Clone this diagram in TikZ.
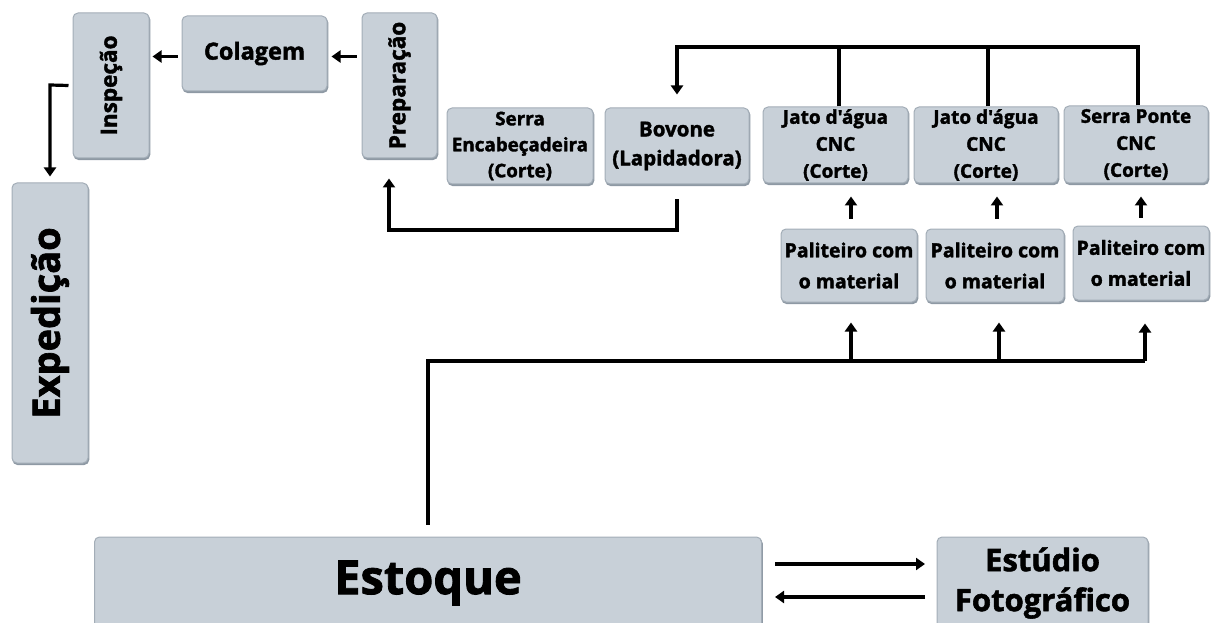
\documentclass[tikz,border=0pt]{standalone}
\usepackage{fontspec}
\setmainfont{Open Sans}[Ligatures=TeXOff, BoldFeatures={FakeBold=1.8}]
\usetikzlibrary{arrows.meta,calc}
\definecolor{boxfill}{HTML}{C8D0D8}
\definecolor{boxedge}{HTML}{A3ADB7}
\definecolor{boxshadow}{HTML}{8E99A4}
\tikzset{
  pbox/.style={draw=boxedge, line width=1pt, fill=boxfill, rounded corners=5pt,
    align=center, font=\bfseries, inner sep=0pt,
    preaction={fill=boxshadow, draw=boxshadow, transform canvas={shift={(0.8pt,-1.6pt)}}}},
  conn/.style={line width=3.2pt, line cap=butt, line join=miter},
  arr/.style={conn, -{Triangle[length=9pt,width=12pt]}},
}
\begin{document}
\begin{tikzpicture}[x=1pt,y=-1pt]
\useasboundingbox (0,0) rectangle (1211,623);
% top left chain
\node[pbox, minimum width=76pt, minimum height=145pt] (insp) at (111,85.5) {};
\node[rotate=90, font=\bfseries\fontsize{22.5}{26}\selectfont] at (insp.center) {Inspeção};
\node[pbox, minimum width=145pt, minimum height=75pt, font=\bfseries\fontsize{23.5}{28}\selectfont] (col) at (254.5,53.5) {Colagem};
\node[pbox, minimum width=75pt, minimum height=145pt] (prep) at (399.5,85.5) {};
\node[rotate=90, font=\bfseries\fontsize{22.5}{26}\selectfont] at (prep.center) {Preparação};
\node[pbox, minimum width=76pt, minimum height=280pt] (exp) at (50,323) {};
\node[rotate=90, font=\bfseries\fontsize{38}{44}\selectfont] at (exp.center) {Expedição};
% machines
\node[pbox, minimum width=146pt, minimum height=76pt, font=\bfseries\fontsize{18.8}{26}\selectfont] (serra) at (520,146) {Serra\\Encabeçadeira\\(Corte)};
\node[pbox, minimum width=144pt, minimum height=76pt, font=\bfseries\fontsize{20.5}{29}\selectfont] (bov) at (677,146) {Bovone\\(Lapidadora)};
\node[pbox, minimum width=145pt, minimum height=76pt, font=\bfseries\fontsize{19}{27}\selectfont] (j1) at (835.5,145) {Jato d'água\\CNC\\(Corte)};
\node[pbox, minimum width=144pt, minimum height=76pt, font=\bfseries\fontsize{19}{27}\selectfont] (j2) at (986,145) {Jato d'água\\CNC\\(Corte)};
\node[pbox, minimum width=144pt, minimum height=77pt, font=\bfseries\fontsize{19}{27}\selectfont] (sp) at (1136,144.5) {Serra Ponte\\CNC\\(Corte)};
% paliteiros
\node[pbox, minimum width=136pt, minimum height=73pt, font=\bfseries\fontsize{19.5}{31}\selectfont] (p1) at (849,265.5) {Paliteiro com\\o material};
\node[pbox, minimum width=138pt, minimum height=73pt, font=\bfseries\fontsize{19.5}{31}\selectfont] (p2) at (995,265.5) {Paliteiro com\\o material};
\node[pbox, minimum width=136pt, minimum height=74pt, font=\bfseries\fontsize{19.5}{31}\selectfont] (p3) at (1141,263) {Paliteiro com\\o material};
% bottom
\node[pbox, minimum width=667pt, minimum height=92pt, font=\bfseries\fontsize{47}{50}\selectfont] (est) at (428,583) {Estoque};
\node[pbox, minimum width=211pt, minimum height=92pt, font=\bfseries\fontsize{31}{40}\selectfont] (stu) at (1042.5,583) {Estúdio\\Fotográfico};
% coordinates
\coordinate (tl) at (677,47);
\coordinate (t1) at (839,47);
\coordinate (t2) at (988,47);
\coordinate (tr) at (1138,47);
\coordinate (bl) at (389,230);
\coordinate (br) at (677,230);
\coordinate (sl) at (428,361);
\coordinate (s1) at (851,361);
\coordinate (s2) at (999,361);
\coordinate (sr) at (1145,361);
\coordinate (il) at (50,85);
\coordinate (r1) at (775,564);
\coordinate (r2) at (925,564);
\coordinate (l1) at (925,597);
\coordinate (l2) at (775,597);
% connectors
\draw[arr] ($(col.west)+(-4,3)$) -- ($(insp.east |- col.west)+(3,3)$);
\draw[arr] ($(prep.west |- col.east)+(-5,3)$) -- ($(col.east)+(4,3)$);
\draw[arr] ($(insp.west)+(-4,0)$) -- (il) -- ($(exp.north)+(0,-6)$);
\draw[arr] (tr |- sp.north) -- (tr) -- (tl) -- ($(bov.north)+(0,-13)$);
\draw[conn] (t1 |- j1.north) -- (t1);
\draw[conn] (t2 |- j2.north) -- (t2);
\draw[arr] ($(bov.south)+(0,15)$) -- (br) -- (bl) -- ($(prep.south)+(-10.5,20)$);
\draw[arr] ($(p1.north)+(2,-10)$) -- ($(j1.south)+(15.5,13)$);
\draw[arr] ($(p2.north)+(2,-10)$) -- ($(j2.south)+(11,13)$);
\draw[arr] ($(p3.north)+(0,-8)$) -- ($(sp.south)+(5,13)$);
\draw[conn] ($(est.north)+(0,-12)$) -- (sl) -- (sr);
\draw[arr] (s1) -- ($(p1.south)+(2,20)$);
\draw[arr] (s2) -- ($(p2.south)+(4,20)$);
\draw[arr] (sr) -- ($(p3.south)+(4,23)$);
\draw[arr] (r1) -- (r2);
\draw[arr] (l1) -- (l2);
\end{tikzpicture}
\end{document}
